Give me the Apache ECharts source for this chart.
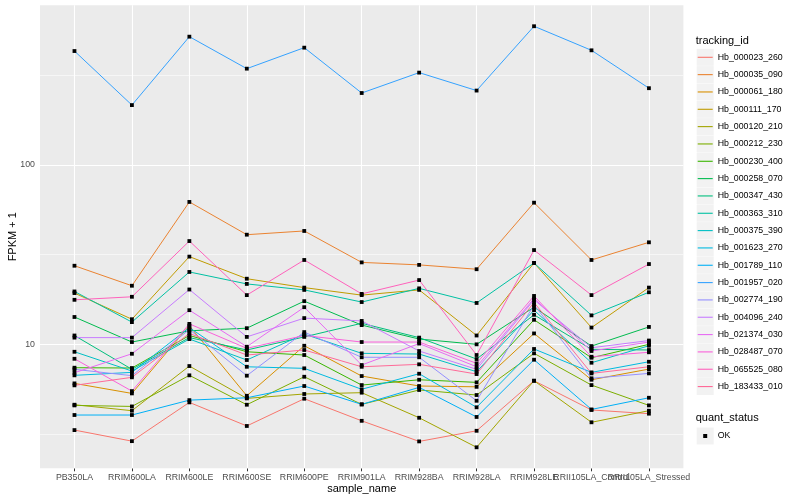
<!DOCTYPE html>
<html>
<head>
<meta charset="utf-8">
<script src="https://cdn.jsdelivr.net/npm/echarts@6/dist/echarts.min.js"></script>
<style>
html,body{margin:0;padding:0;background:#fff;}
#chart{width:800px;height:500px;}
</style>
</head>
<body>
<div id="chart"></div>
<script>
// ---- data ----
const categories = ['PB350LA','RRIM600LA','RRIM600LE','RRIM600SE','RRIM600PE','RRIM901LA','RRIM928BA','RRIM928LA','RRIM928LE','RRII105LA_Control','RRII105LA_Stressed'];
const trackingIds = ['Hb_000023_260','Hb_000035_090','Hb_000061_180','Hb_000111_170','Hb_000120_210','Hb_000212_230','Hb_000230_400','Hb_000258_070','Hb_000347_430','Hb_000363_310','Hb_000375_390','Hb_001623_270','Hb_001789_110','Hb_001957_020','Hb_002774_190','Hb_004096_240','Hb_021374_030','Hb_028487_070','Hb_065525_080','Hb_183433_010'];
const yTickLabels = [10, 100];

const v_000023_260 = [3.33, 2.89, 4.75, 3.51, 4.98, 3.75, 2.88, 3.30, 6.27, 4.31, 4.11];
const v_000035_090 = [27.4, 21.2, 62.1, 40.8, 42.8, 28.6, 27.7, 26.2, 61.5, 29.5, 37.0];
const v_000061_180 = [6.06, 5.33, 12.7, 5.17, 9.82, 6.66, 5.86, 5.80, 11.5, 6.35, 7.28];
const v_000111_170 = [19.3, 13.8, 30.8, 23.2, 20.7, 18.8, 20.1, 11.2, 28.4, 12.4, 20.7];
const v_000120_210 = [4.61, 4.27, 7.57, 5.00, 5.29, 5.38, 3.90, 2.67, 6.27, 3.68, 4.27];
const v_000212_230 = [4.57, 4.51, 6.72, 4.61, 6.60, 4.63, 5.57, 5.22, 8.91, 5.93, 4.57];
const v_000230_400 = [7.41, 7.38, 11.2, 9.09, 8.72, 5.93, 6.35, 6.14, 13.7, 8.42, 10.0];
const v_000258_070 = [14.2, 10.3, 11.9, 12.3, 17.4, 12.8, 10.7, 10.0, 16.1, 9.78, 12.5];
const v_000347_430 = [11.2, 7.26, 10.9, 9.30, 11.0, 13.1, 10.9, 8.28, 14.6, 9.38, 9.30];
const v_000363_310 = [19.7, 13.3, 25.3, 21.7, 20.1, 17.2, 20.5, 17.0, 28.4, 14.5, 19.5];
const v_000375_390 = [9.09, 7.10, 10.7, 8.18, 11.4, 8.91, 8.83, 7.04, 15.5, 7.90, 9.82];
const v_001623_270 = [6.72, 6.98, 12.4, 7.50, 7.35, 5.62, 6.86, 4.46, 9.42, 6.98, 8.00];
const v_001789_110 = [4.04, 4.04, 4.89, 5.04, 5.86, 4.63, 5.76, 3.94, 8.21, 4.34, 5.04];
const v_001957_020 = [430, 215, 517, 343, 449, 251, 326, 259, 591, 434, 267];
const v_002774_190 = [7.26, 6.69, 12.1, 6.69, 11.7, 8.47, 8.47, 4.85, 16.6, 6.47, 6.89];
const v_004096_240 = [10.9, 10.9, 20.2, 11.0, 14.0, 13.5, 9.18, 7.26, 17.7, 9.57, 10.5];
const v_021374_030 = [6.95, 8.86, 15.5, 9.70, 16.1, 7.67, 10.1, 7.50, 18.0, 9.18, 10.3];
const v_028487_070 = [8.31, 5.49, 13.0, 9.50, 11.2, 10.3, 10.3, 7.84, 18.6, 8.53, 9.03];
const v_065525_080 = [17.7, 18.4, 37.6, 18.8, 29.5, 19.1, 22.8, 8.72, 33.5, 18.8, 28.0];
const v_183433_010 = [5.91, 6.55, 11.5, 8.72, 9.30, 7.50, 7.74, 6.83, 17.1, 6.89, 7.50];

const seriesValues = [v_000023_260, v_000035_090, v_000061_180, v_000111_170, v_000120_210, v_000212_230, v_000230_400, v_000258_070, v_000347_430, v_000363_310, v_000375_390, v_001623_270, v_001789_110, v_001957_020, v_002774_190, v_004096_240, v_021374_030, v_028487_070, v_065525_080, v_183433_010];

// ---- styles ----
const colors = ['#F8766D','#EA8331','#D89000','#C09B00','#A3A500','#7CAE00','#39B600','#00BB4E','#00BF7D','#00C1A3','#00BFC4','#00BAE0','#00B0F6','#35A2FF','#9590FF','#C77CFF','#E76BF3','#FA62DB','#FF62BC','#FF6A98'];
const FONT = 'Liberation Sans, Arial, Helvetica, sans-serif';
const PANEL = {left: 40, right: 683.4, top: 5.2, bottom: 468.3};
const LEG_X = 696.7, LEG_Y0 = 57.3, LEG_STEP = 17.33;

const chart = echarts.init(document.getElementById('chart'), null, {renderer: 'canvas'});

const idx = categories.map((c, i) => i);
const evenIdx = idx.filter(i => i % 2 === 0);
const oddIdx = idx.filter(i => i % 2 === 1);

const gridLines = [];
yTickLabels.forEach(v => gridLines.push({yAxis: v, lineStyle: {width: 1.1}}));
[3.1623, 31.623, 316.23].forEach(v => gridLines.push({yAxis: v, lineStyle: {width: 0.55}}));
idx.forEach(i => gridLines.push({xAxis: i, lineStyle: {width: 1.1}}));

const series = [];
series.push({
  name: '__grid', type: 'line', data: [], z: 1, silent: true,
  markLine: {z: 1, silent: true, symbol: ['none','none'], label: {show: false}, animation: false,
    lineStyle: {color: '#FFFFFF', type: 'solid'}, emphasis: {disabled: true}, data: gridLines}
});
trackingIds.forEach((name, s) => {
  series.push({
    name: name, type: 'line', z: 2,
    data: seriesValues[s].map((v, i) => [i, v]),
    showSymbol: false, symbol: 'none',
    color: colors[s],
    lineStyle: {color: colors[s], width: 1},
    itemStyle: {color: colors[s]},
    emphasis: {disabled: true}
  });
});
const allPoints = [];
seriesValues.forEach(arr => arr.forEach((v, i) => allPoints.push([i, v])));
series.push({
  name: 'OK', type: 'scatter', z: 3, symbol: 'rect', symbolSize: 3.8,
  itemStyle: {color: '#000000', borderWidth: 0, opacity: 1}, data: allPoints, emphasis: {disabled: true}
});

const keyBoxes = trackingIds.map((n, i) => ({
  type: 'rect', shape: {x: LEG_X, y: LEG_Y0 + LEG_STEP * i - 8.5, width: 17, height: 17},
  style: {fill: '#F2F2F2'}, z: 0
}));
keyBoxes.push({type: 'rect', shape: {x: LEG_X, y: 436 - 8.5, width: 17, height: 17}, style: {fill: '#F2F2F2'}, z: 0});

const xLabelStyle = {fontSize: 8.8, color: '#4D4D4D', margin: 5, hideOverlap: false,
  showMinLabel: true, showMaxLabel: true, fontFamily: FONT,
  formatter: v => categories[Math.round(v)] || ''};

const option = {
  animation: false,
  backgroundColor: '#FFFFFF',
  textStyle: {fontFamily: FONT},
  grid: {left: PANEL.left, right: 800 - PANEL.right, top: PANEL.top, bottom: 500 - PANEL.bottom,
    show: true, backgroundColor: '#EBEBEB', borderWidth: 0, containLabel: false, outerBoundsMode: 'none'},
  xAxis: [{
    type: 'value', min: -0.6, max: 10.6, position: 'bottom',
    name: 'sample_name', nameLocation: 'middle', nameGap: 15, nameMoveOverlap: false,
    nameTextStyle: {fontSize: 11, color: '#000000', fontFamily: FONT},
    axisLine: {show: false},
    splitLine: {show: false},
    axisTick: {show: true, customValues: idx, length: 3, lineStyle: {color: '#333333', width: 1}},
    axisLabel: Object.assign({customValues: evenIdx}, xLabelStyle)
  }, {
    type: 'value', min: -0.6, max: 10.6, position: 'bottom', offset: 0,
    axisLine: {show: false},
    splitLine: {show: false},
    axisTick: {show: false},
    axisLabel: Object.assign({customValues: oddIdx}, xLabelStyle)
  }],
  yAxis: {
    type: 'log', logBase: 10, min: 2.04, max: 774,
    name: 'FPKM + 1', nameLocation: 'middle', nameGap: 22, nameRotate: 90, nameMoveOverlap: false,
    nameTextStyle: {fontSize: 11, color: '#000000', fontFamily: FONT},
    axisLine: {show: false},
    splitLine: {show: false},
    minorSplitLine: {show: false},
    axisTick: {show: true, length: 3, lineStyle: {color: '#333333', width: 1}},
    axisLabel: {showMinLabel: false, showMaxLabel: false,
      formatter: v => { const r = Math.round(v); return (Math.abs(v - r) < 1e-3 && yTickLabels.indexOf(r) >= 0) ? String(r) : ''; },
      fontSize: 8.8, color: '#4D4D4D', margin: 5, fontFamily: FONT}
  },
  legend: [
    {
      data: trackingIds, orient: 'vertical', left: LEG_X + 1, top: LEG_Y0 - LEG_STEP / 2,
      icon: 'rect', itemWidth: 15, itemHeight: 1.1, itemGap: 0,
      padding: 0, selectedMode: false,
      textStyle: {fontSize: 8.8, color: '#000000', lineHeight: LEG_STEP, fontFamily: FONT, padding: [0,0,0,0]}
    },
    {
      data: ['OK'], orient: 'vertical', left: LEG_X + 1, top: 436 - LEG_STEP / 2,
      icon: 'path://M0,0h0.01v0.01z M5.5,5.5h4v4h-4z M14.99,14.99h0.01v0.01z',
      itemWidth: 15, itemHeight: 15, itemGap: 0, padding: 0, selectedMode: false,
      textStyle: {fontSize: 8.8, color: '#000000', lineHeight: LEG_STEP, fontFamily: FONT}
    }
  ],
  graphic: [
    {type: 'group', silent: true, z: -1, children: keyBoxes},
    {type: 'text', left: LEG_X - 1, top: 35, silent: true,
      style: {text: 'tracking_id', fontSize: 11, fill: '#000000', fontFamily: FONT}},
    {type: 'text', left: LEG_X - 1, top: 412.5, silent: true,
      style: {text: 'quant_status', fontSize: 11, fill: '#000000', fontFamily: FONT}}
  ],
  series: series
};
chart.setOption(option);
</script>
</body>
</html>
